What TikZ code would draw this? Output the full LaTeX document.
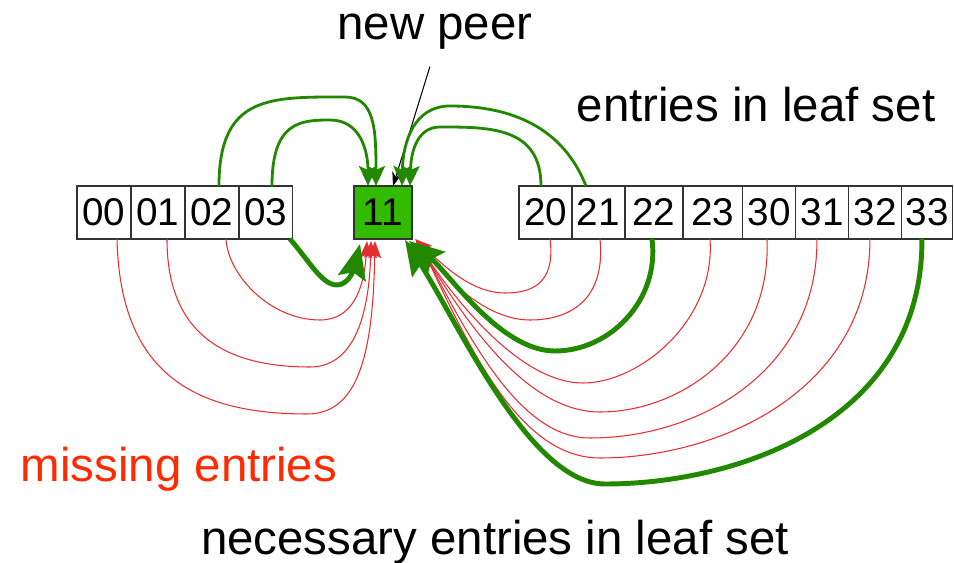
\documentclass[tikz,border=0pt]{standalone}
\usepackage{fontspec}
\setmainfont{Liberation Sans}
\usetikzlibrary{arrows.meta, positioning, calc}

\definecolor{leafgreen}{RGB}{34,136,0}
\definecolor{peerfill}{RGB}{51,187,0}
\definecolor{missred}{RGB}{230,45,50}
\definecolor{labelred}{RGB}{255,42,0}

\begin{document}
\begin{tikzpicture}[
    x=0.02cm,
    y=-0.02cm,
    node distance=0pt,
    cell/.style={draw=black!80, line width=0.6pt, minimum width=1.08cm,
        minimum height=1.06cm, inner sep=0pt, outer sep=0pt,
        font=\fontsize{22}{26}\selectfont},
    label/.style={inner sep=0pt, anchor=base, font=\fontsize{27}{32}\selectfont},
    leaf/.style={leafgreen, line width=1.6pt,
        -{Stealth[length=0.4cm, width=0.36cm, inset=0.08cm]}},
    needed/.style={leafgreen, line width=2.8pt,
        -{Stealth[length=0.7cm, width=0.56cm, inset=0.12cm]}},
    missing/.style={missred, line width=0.6pt,
        -{Stealth[length=0.34cm, width=0.26cm, inset=0.06cm]}},
]
    \useasboundingbox (0,0) rectangle (954,563);

    % left part of the id space
    \node[cell]               (c00) at (104,212.5) {00};
    \node[cell, right=of c00] (c01) {01};
    \node[cell, right=of c01] (c02) {02};
    \node[cell, right=of c02] (c03) {03};

    % the joining peer
    \node[cell, fill=peerfill, minimum width=1.16cm] (c11) at (383,212.5) {11};

    % right part of the id space
    \node[cell, minimum width=1.06cm]               (c20) at (545.5,212.5) {20};
    \node[cell, minimum width=1.06cm, right=of c20] (c21) {21};
    \node[cell, minimum width=1.16cm, right=of c21] (c22) {22};
    \node[cell, minimum width=1.2cm,  right=of c22] (c23) {23};
    \node[cell, minimum width=1.06cm, right=of c23] (c30) {30};
    \node[cell, minimum width=1.06cm, right=of c30] (c31) {31};
    \node[cell, minimum width=1.06cm, right=of c31] (c32) {32};
    \node[cell, minimum width=1.02cm, right=of c32] (c33) {33};

    % texts
    \node[label]                  (peer)    at (435,40)  {new peer};
    \node[label]                  (leafset) at (756,122) {entries in leaf set};
    \node[label, text=labelred]   (miss)    at (179,482) {missing entries};
    \node[label]                  (need)    at (495,555) {necessary entries in leaf set};

    \draw[black, line width=0.6pt, shorten <=0.34cm,
        -{Stealth[length=0.28cm, width=0.2cm]}]
        (peer.south) -- ($(c11.north)+(10,0)$);

    % leaf set entries above
    \draw[leaf] ($(c02.north)+(7,0)$)
        .. controls (219,95) and (270,97) .. (345,97)
        .. controls (375,97) and (376,130) .. ($(c11.north)+(-7,0)$);
    \draw[leaf] ($(c03.north)+(6,0)$)
        .. controls (272,122) and (300,120) .. (330,120)
        .. controls (360,120) and (368,150) .. ($(c11.north)+(-15,0)$);
    \draw[leaf] ($(c20.north)+(-4.5,0)$)
        .. controls (541,127) and (490,127) .. (440,127)
        .. controls (418,127) and (411,150) .. ($(c11.north)+(27,0)$);
    \draw[leaf] ($(c21.north)+(-12.5,0)$)
        .. controls (560,120) and (500,106) .. (450,106)
        .. controls (415,106) and (403,140) .. ($(c11.north)+(19,0)$);

    % missing entries, left side
    \draw[missing] ($(c00.south)+(13,0)$)
        .. controls (120,370) and (190,414) .. (307,414)
        .. controls (360,414) and (373,350) .. ($(c11.south)+(-8,2)$);
    \draw[missing] ($(c01.south)+(9,0)$)
        .. controls (167,330) and (220,367) .. (310,367)
        .. controls (352,367) and (369,320) .. ($(c11.south)+(-12,2)$);
    \draw[missing] ($(c02.south)+(14,0)$)
        .. controls (228,275) and (270,320) .. (320,320)
        .. controls (352,320) and (364,290) .. ($(c11.south)+(-16,2)$);
    \draw[needed] ($(c03.south east)+(-3,0)$)
        .. controls (310,262) and (322,285) .. (337,285)
        .. controls (350,285) and (355,265) .. ($(c11.south)+(-23,5)$);

    % missing entries, right side
    \draw[missing] ($(c20.south)+(4.5,0)$)
        .. controls (556,285) and (530,293) .. (505,293)
        .. controls (470,293) and (440,262) .. ($(c11.south east)+(3,0)$);
    \draw[missing] ($(c21.south)+(1.5,0)$)
        .. controls (606,300) and (570,320) .. (530,320)
        .. controls (490,320) and (450,285) .. ($(c11.south east)+(4,1)$);
    \draw[missing] ($(c23.south)+(-3,0)$)
        .. controls (716,320) and (640,383) .. (583,383)
        .. controls (520,383) and (455,300) .. ($(c11.south east)+(4,2)$);
    \draw[missing] ($(c30.south)+(-2.5,0)$)
        .. controls (772,350) and (680,412) .. (600,412)
        .. controls (530,412) and (470,330) .. ($(c11.south east)+(5,2)$);
    \draw[missing] ($(c31.south)+(-5.5,0)$)
        .. controls (818,370) and (700,438) .. (590,438)
        .. controls (520,438) and (470,340) .. ($(c11.south east)+(6,2)$);
    \draw[missing] ($(c32.south)+(-5.5,0)$)
        .. controls (870,390) and (720,458) .. (600,458)
        .. controls (520,458) and (470,350) .. ($(c11.south east)+(7,2)$);
    \draw[needed] ($(c22.south)+(-2,0)$)
        .. controls (660,300) and (610,351) .. (555,351)
        .. controls (500,351) and (448,272) .. ($(c11.south east)+(-3,2)$);
    \draw[needed] ($(c33.south)+(-5.5,0)$)
        .. controls (923,420) and (740,484) .. (605,484)
        .. controls (530,484) and (459,324) .. ($(c11.south east)+(-7,1)$);
\end{tikzpicture}
\end{document}
